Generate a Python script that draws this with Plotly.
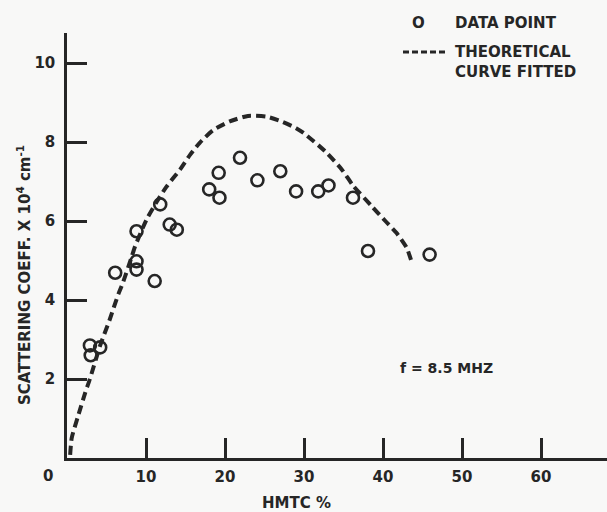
import plotly.graph_objects as go

# Data points (HMTC %, scattering coefficient x 10^4 cm^-1)
hmtc = [2.9, 3.0, 4.2, 6.1, 8.8, 8.8, 8.8, 11.1, 11.8, 13.0, 13.9,
        18.0, 19.2, 19.3, 21.9, 24.1, 27.0, 29.0, 31.8, 33.1, 36.2, 38.1, 45.9]
coef = [2.85, 2.6, 2.8, 4.69, 4.98, 4.77, 5.74, 4.48, 6.42, 5.91, 5.78,
        6.8, 7.22, 6.59, 7.6, 7.03, 7.26, 6.75, 6.75, 6.9, 6.59, 5.24, 5.15]

# Theoretical curve
curve_x = [0.4, 0.6, 1.4, 2.3, 2.9, 4.2, 5.4, 6.5, 7.1, 8.2, 8.6, 10.1, 11.4,
           12.6, 14.3, 15.6, 16.8, 18.5, 20.6, 22.9, 25.3, 27.3, 29.0, 30.0,
           32.7, 34.8, 36.2, 38.6, 40.3, 41.7, 43.0, 43.6]
curve_y = [0.08, 0.51, 1.06, 1.65, 2.0, 2.85, 3.5, 4.15, 4.45, 5.1, 5.35, 6.05,
           6.5, 6.87, 7.3, 7.68, 7.98, 8.3, 8.52, 8.66, 8.64, 8.51, 8.35, 8.22,
           7.76, 7.3, 6.9, 6.37, 6.0, 5.7, 5.32, 4.98]

x_ticks = [10, 20, 30, 40, 50, 60]
y_ticks = [2, 4, 6, 8, 10]

INK = "#262626"
BG = "#f8f8f7"
FONT = "DejaVu Sans"
BOLD = dict(family=FONT, weight="bold", color=INK)

fig = go.Figure()
fig.add_trace(go.Scatter(
    x=hmtc, y=coef, mode="markers", name="DATA POINT",
    marker=dict(symbol="circle-open", size=12, color=INK, line=dict(width=2.6, color=INK)),
    cliponaxis=False, showlegend=False,
))
fig.add_trace(go.Scatter(
    x=curve_x, y=curve_y, mode="lines", name="THEORETICAL CURVE FITTED",
    line=dict(color=INK, width=4, dash="9px,5px", shape="spline", smoothing=0.6),
    showlegend=False,
))

L, R, T, B = 67, 0, 33, 54
W, H = 607, 512
plot_w, plot_h = W - L - R, H - T - B


def px(xp):
    return (xp - L) / plot_w


def py(yp):
    return (H - B - yp) / plot_h


fig.update_layout(
    width=W, height=H,
    margin=dict(l=L, r=R, t=T, b=B, autoexpand=False),
    paper_bgcolor=BG, plot_bgcolor=BG,
    font=dict(size=15, **BOLD),
    showlegend=False,
)
axis_common = dict(
    showgrid=False, zeroline=False, automargin=False,
    showline=True, linecolor=INK, linewidth=2.5,
    ticks="inside", ticklen=20, tickwidth=2.8, tickcolor=INK,
    tickfont=dict(size=15, **BOLD),
)
fig.update_xaxes(range=[0, plot_w / 7.9], tickmode="array", tickvals=x_ticks,
                 ticktext=[str(v) for v in x_ticks], ticklabelstandoff=3, **axis_common)
fig.update_yaxes(range=[0, plot_h / 39.5], tickmode="array", tickvals=y_ticks,
                 ticktext=[str(v) for v in y_ticks], ticklabelstandoff=6, **axis_common)

# origin label
fig.add_annotation(x=px(48), y=py(476), xref="paper", yref="paper", text="0",
                   showarrow=False, xanchor="center", yanchor="middle",
                   font=dict(size=15, **BOLD))
# frequency note
fig.add_annotation(x=px(446), y=py(368), xref="paper", yref="paper", text="f = 8.5 MHZ",
                   showarrow=False, xanchor="center", yanchor="middle",
                   font=dict(size=14, **BOLD))
# axis titles
fig.add_annotation(x=px(296), y=py(503), xref="paper", yref="paper", text="HMTC %",
                   showarrow=False, xanchor="center", yanchor="middle",
                   font=dict(size=15, **BOLD))
fig.add_annotation(x=px(24), y=py(275), xref="paper", yref="paper",
                   text="SCATTERING COEFF. X 10<sup>4</sup> cm<sup>-1</sup>",
                   showarrow=False, textangle=-90, xanchor="center", yanchor="middle",
                   font=dict(size=15, **BOLD))

# legend (drawn manually to match the original placement)
fig.add_annotation(x=px(418), y=py(23), xref="paper", yref="paper", text="O",
                   showarrow=False, xanchor="center", yanchor="middle",
                   font=dict(size=15, **BOLD))
fig.add_annotation(x=px(453), y=py(23), xref="paper", yref="paper", text="DATA POINT",
                   showarrow=False, xanchor="left", yanchor="middle",
                   font=dict(size=15, **BOLD))
fig.add_shape(type="line", xref="paper", yref="paper",
              x0=px(403), x1=px(447), y0=py(52), y1=py(52),
              line=dict(color=INK, width=3, dash="6px,3px"))
fig.add_annotation(x=px(453), y=py(62), xref="paper", yref="paper",
                   text="THEORETICAL<br>CURVE FITTED", align="left",
                   showarrow=False, xanchor="left", yanchor="middle",
                   font=dict(size=15, **BOLD))

fig.write_html(
    "out.html",
    config={"displayModeBar": False},
    post_script="document.body.style.margin='0';document.body.style.padding='0';"
                "document.body.style.overflow='hidden';",
)
